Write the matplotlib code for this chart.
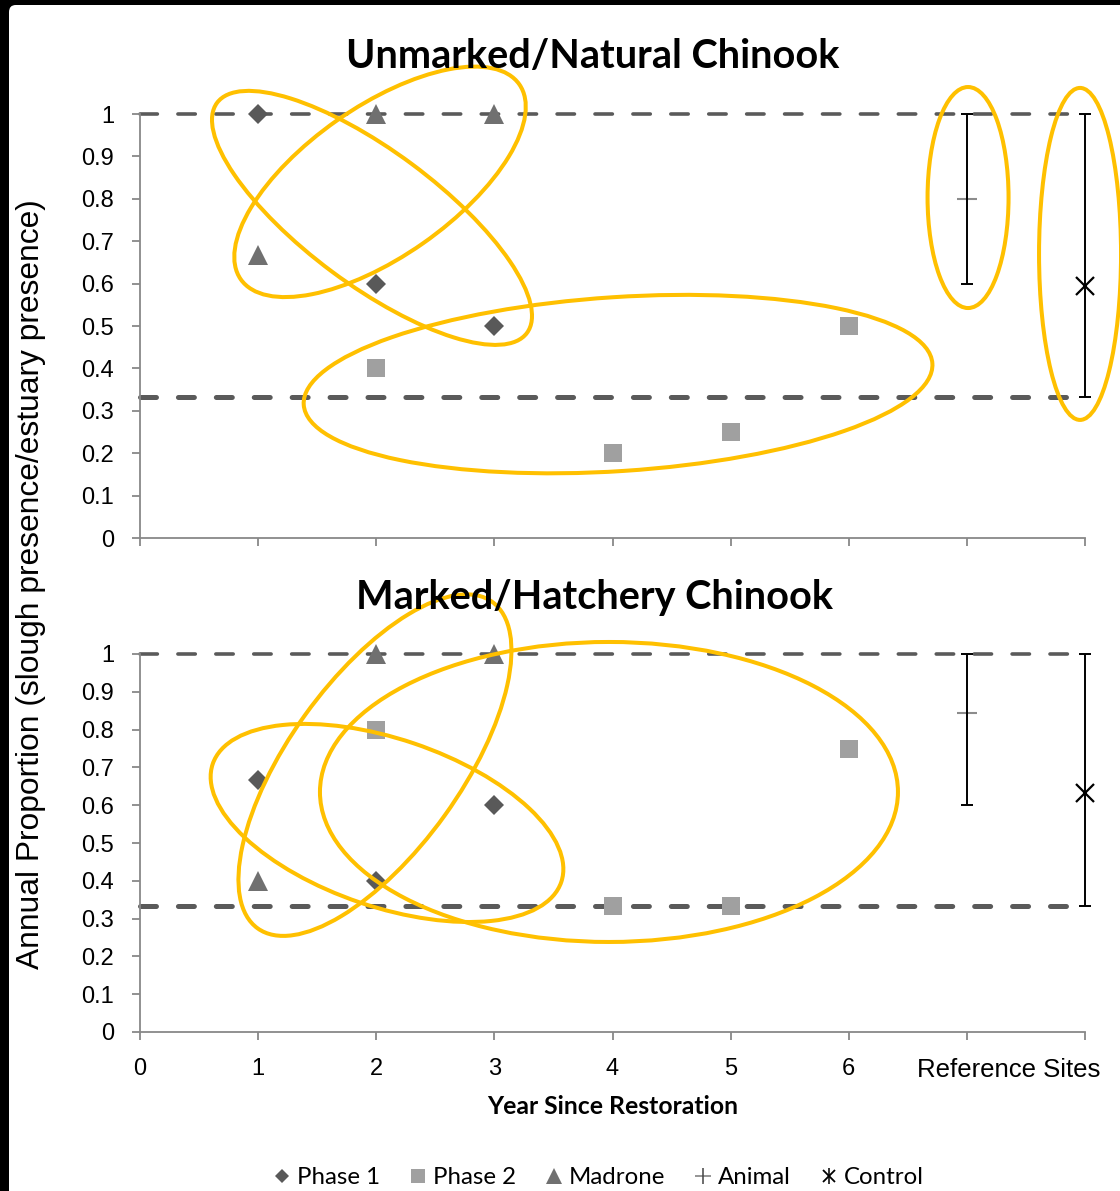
import numpy as np
import matplotlib
matplotlib.use("Agg")
import matplotlib.pyplot as plt
from matplotlib.patches import Ellipse, FancyBboxPatch
from matplotlib.lines import Line2D
from matplotlib.transforms import ScaledTranslation

plt.rcParams['font.family'] = ['Liberation Sans', 'DejaVu Sans']
plt.rcParams['lines.scale_dashes'] = False

# ---------------- data ----------------
year_ticks = [0, 1, 2, 3, 4, 5, 6]
ref_label = "Reference Sites"
x_animal = 7
x_control = 8
y_ticks = [0, 0.1, 0.2, 0.3, 0.4, 0.5, 0.6, 0.7, 0.8, 0.9, 1.0]

# Unmarked / natural Chinook
nat_phase1_x = [1, 2, 3]
nat_phase1_y = [1.0, 0.6, 0.5]
nat_phase2_x = [2, 4, 5, 6]
nat_phase2_y = [0.4, 0.2, 0.25, 0.5]
nat_madrone_x = [1, 2, 3]
nat_madrone_y = [0.667, 1.0, 1.0]
nat_animal = [0.80, 0.60, 1.00]     # mean, min, max
nat_control = [0.595, 0.333, 1.00]

# Marked / hatchery Chinook
hat_phase1_x = [1, 2, 3]
hat_phase1_y = [0.667, 0.4, 0.6]
hat_phase2_x = [2, 4, 5, 6]
hat_phase2_y = [0.8, 0.333, 0.333, 0.75]
hat_madrone_x = [1, 2, 3]
hat_madrone_y = [0.4, 1.0, 1.0]
hat_animal = [0.845, 0.60, 1.00]
hat_control = [0.632, 0.333, 1.00]

# reference-site range limits (dashed guides)
upper_bound = 1.0
lower_bound = 0.333

# highlight rings: centre in data units, size in pixels, tilt in degrees
nat_rings = [
    (1.964, 0.755, 386, 134, -36.6),
    (2.032, 0.840, 340, 150, 35.0),
    (4.047, 0.363, 630, 174, 3.75),
    (7.010, 0.803, 81, 221, 0.0),
    (7.958, 0.670, 82, 332, 0.0),
]
hat_rings = [
    (1.989, 0.706, 402, 172, 54.3),
    (2.091, 0.553, 368, 168, -18.7),
    (3.970, 0.635, 578, 300, 0.0),
]

# ---------------- styling ----------------
W, H = 1120, 1191
C_P1 = '#595959'
C_P2 = '#A0A0A0'
C_MAD = '#707070'
C_ANIMAL = '#8C8C8C'
C_AXIS = '#888888'
C_DASH = '#5A5A5A'
C_RING = '#FFC000'

fig = plt.figure(figsize=(W / 100, H / 100), dpi=100)
fig.patch.set_facecolor('black')
fig.add_artist(FancyBboxPatch((9 / W, -0.05), 1.2, 1 - 5 / H + 0.05,
                              boxstyle='round,pad=0,rounding_size=0.006',
                              transform=fig.transFigure, fc='white', ec='none',
                              zorder=-5))

ax1 = fig.add_axes([140 / W, 1 - 538 / H, 945 / W, 424 / H])
ax2 = fig.add_axes([140 / W, 1 - 1032 / H, 945 / W, 378 / H])


def fmt_tick(v):
    if v == 0:
        return '0'
    if v == 1:
        return '1'
    return f'{v:.1f}'


def draw_panel(ax, p1x, p1y, p2x, p2y, mx, my, animal, control, rings, show_xlabels):
    ax.set_facecolor('none')
    ax.set_xlim(0, 8)
    ax.set_ylim(0, 1)
    for s in ('top', 'right'):
        ax.spines[s].set_visible(False)
    for s in ('left', 'bottom'):
        ax.spines[s].set_color(C_AXIS)
        ax.spines[s].set_linewidth(1.3)
    ax.set_yticks(y_ticks)
    ax.set_yticklabels([fmt_tick(v) for v in y_ticks])
    ax.set_xticks(list(range(0, 9)))
    if show_xlabels:
        ax.set_xticklabels([str(v) for v in year_ticks] + ['', ''])
    else:
        ax.set_xticklabels([''] * 9)
    ax.tick_params(axis='both', direction='out', length=5.5, width=1.3,
                   color=C_AXIS, labelsize=17, labelcolor='black')
    ax.tick_params(axis='y', pad=13)
    ax.tick_params(axis='x', pad=13.5)

    # dashed guides for the reference range
    ax.axhline(upper_bound, color=C_DASH, lw=2.6, dashes=(12.5, 14.8),
               dash_capstyle='round', clip_on=False, zorder=1)
    ax.axhline(lower_bound, color=C_DASH, lw=3.6, dashes=(11.5, 15.8),
               dash_capstyle='round', clip_on=False, zorder=1)

    ax.plot(p1x, p1y, 'D', color=C_P1, ms=9.8, mew=0, clip_on=False, zorder=3)
    ax.plot(p2x, p2y, 's', color=C_P2, ms=13.5, mew=0, clip_on=False, zorder=3)
    ax.plot(mx, my, '^', color=C_MAD, ms=14, mew=0, clip_on=False, zorder=3)

    # reference sites with min-max range
    ax.plot([x_animal], [animal[0]], marker='_', color=C_ANIMAL, ms=14, mew=1.5,
            ls='none', clip_on=False, zorder=3)
    for xpos, (mean, lo, hi) in ((x_animal, animal), (x_control, control)):
        cont = ax.errorbar([xpos], [mean], yerr=[[mean - lo], [hi - mean]],
                           fmt='none', ecolor='black', elinewidth=1.4,
                           capsize=4.2, capthick=1.4, zorder=4)
        for art in cont.get_children():
            art.set_clip_on(False)
    ax.plot([x_control], [control[0]], 'x', color='black', ms=13, mew=1.6,
            ls='none', clip_on=False, zorder=4)

    # highlight rings
    for cx, cy, w, h, ang in rings:
        tr = fig.dpi_scale_trans + ScaledTranslation(cx, cy, ax.transData)
        e = Ellipse((0, 0), w / 100, h / 100, angle=ang, transform=tr,
                    fill=False, ec=C_RING, lw=2.9, clip_on=False, zorder=6)
        ax.add_patch(e)
    ax.set_xlim(0, 8)
    ax.set_ylim(0, 1)


draw_panel(ax1, nat_phase1_x, nat_phase1_y, nat_phase2_x, nat_phase2_y,
           nat_madrone_x, nat_madrone_y, nat_animal, nat_control, nat_rings, False)
draw_panel(ax2, hat_phase1_x, hat_phase1_y, hat_phase2_x, hat_phase2_y,
           hat_madrone_x, hat_madrone_y, hat_animal, hat_control, hat_rings, True)

# category label for the reference sites, on the tick-label baseline
ax2.annotate(ref_label, xy=(7.357, 0), xycoords=('data', 'axes fraction'),
             xytext=(0, -(5.5 + 13.0)), textcoords='offset points',
             ha='center', va='top', fontsize=18.5)

# titles and axis labels
fig.text(593 / W, 1 - 57 / H, 'Unmarked/Natural Chinook', ha='center', va='center',
         fontsize=28.5, fontweight='bold', family=['Lato', 'DejaVu Sans'])
fig.text(594 / W, 1 - 598 / H, 'Marked/Hatchery Chinook', ha='center', va='center',
         fontsize=28.5, fontweight='bold', family=['Lato', 'DejaVu Sans'])
fig.text(31 / W, 1 - 584 / H, 'Annual Proportion (slough presence/estuary presence)',
         rotation=90, ha='center', va='center', fontsize=22.9)
fig.text(613 / W, 1 - 1107 / H, 'Year Since Restoration', ha='center', va='center',
         fontsize=17.8, fontweight='bold', family=['Lato', 'DejaVu Sans'])

# legend
h_p1 = Line2D([], [], marker='D', color=C_P1, ms=7.5, mew=0, ls='none')
h_p2 = Line2D([], [], marker='s', color=C_P2, ms=10.5, mew=0, ls='none')
h_mad = Line2D([], [], marker='^', color=C_MAD, ms=11, mew=0, ls='none')
h_an = (Line2D([], [], marker='_', color=C_ANIMAL, ms=11, mew=1.3, ls='none'),
        Line2D([], [], marker='|', color='#444444', ms=11, mew=1.1, ls='none'))
h_ct = (Line2D([], [], marker='x', color='black', ms=9, mew=1.3, ls='none'),
        Line2D([], [], marker='|', color='black', ms=11, mew=1.1, ls='none'))
fig.legend([h_p1, h_p2, h_mad, h_an, h_ct],
           ['Phase 1', 'Phase 2', 'Madrone', 'Animal', 'Control'],
           loc='center', bbox_to_anchor=(598 / W, 1 - 1178 / H), ncol=5,
           frameon=False, prop={'family': ['Lato', 'DejaVu Sans'], 'size': 17.3},
           handlelength=0.8, handletextpad=0.2, columnspacing=1.2,
           borderaxespad=0, borderpad=0)

fig.savefig('out.png', dpi=100, facecolor=fig.get_facecolor())
